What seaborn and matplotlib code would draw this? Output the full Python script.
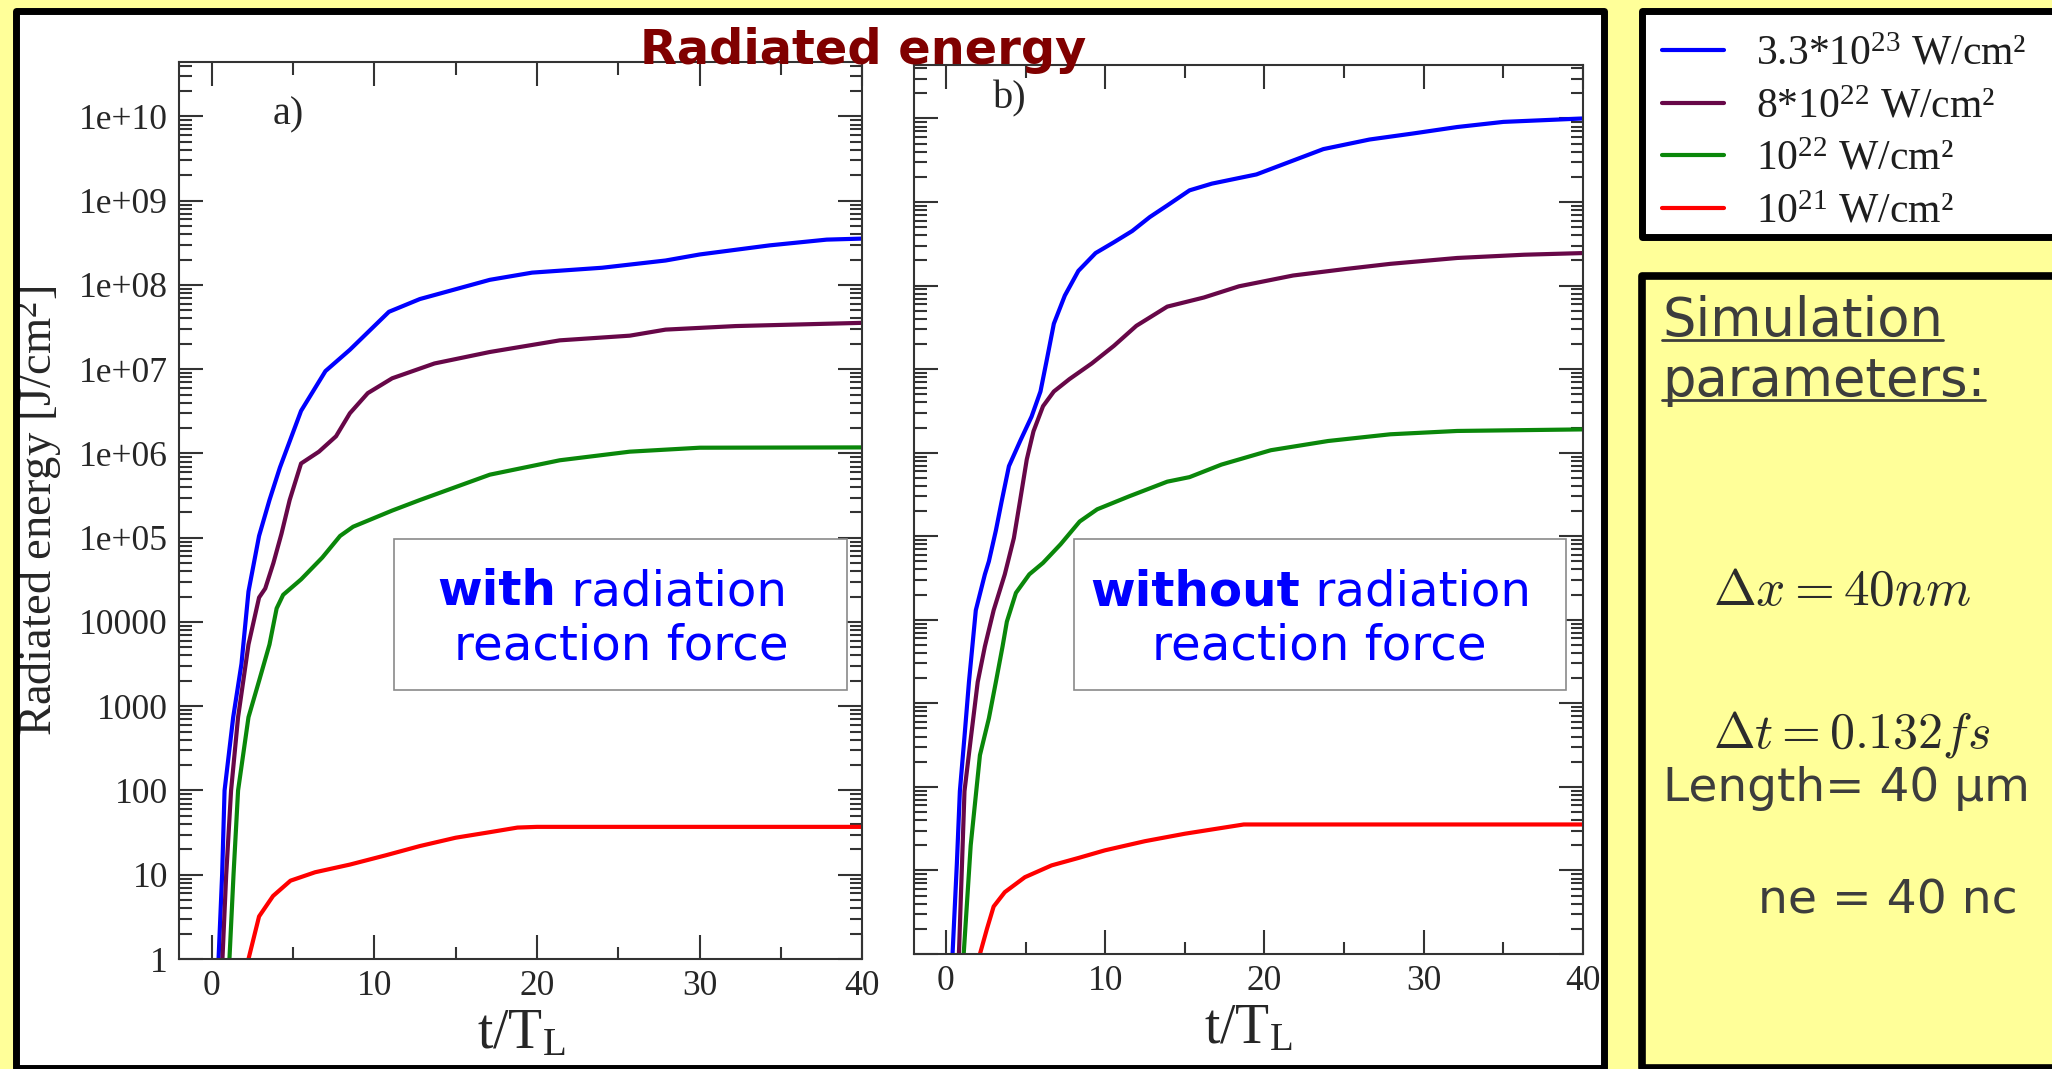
import numpy as np
import pandas as pd
import matplotlib
matplotlib.use("Agg")
import matplotlib.pyplot as plt
from matplotlib.patches import Rectangle
from matplotlib.lines import Line2D
from matplotlib.transforms import Affine2D
from matplotlib.ticker import FixedLocator, FixedFormatter, LogLocator, NullFormatter, MultipleLocator
import seaborn as sns

W, H, DPI = 2052, 1069, 100

# ---------------------------------------------------------------- data
INTENSITY_LABELS = [r"3.3*10$^{23}$ W/cm²", r"8*10$^{22}$ W/cm²",
                    r"10$^{22}$ W/cm²", r"10$^{21}$ W/cm²"]
LINE_COLORS = ["#0000ff", "#670748", "#0a870a", "#ff0000"]

# a) with radiation reaction force
T_A_I0 = [0.43, 0.65, 0.8, 1.33, 1.84, 2.27, 2.92, 3.56, 4.2, 5.5, 7.0, 8.5, 10.9,
          12.8, 17.1, 19.7, 24.0, 27.9, 30.0, 34.3, 37.8, 40.0]
E_A_I0 = [1.0, 10.0, 100.0, 7.4e2, 3.2e3, 2.3e4, 1.05e5, 2.8e5, 6.8e5, 3.2e6, 9.5e6,
          1.7e7, 4.8e7, 6.8e7, 1.15e8, 1.4e8, 1.6e8, 1.95e8, 2.3e8, 2.95e8, 3.45e8, 3.55e8]

T_A_I1 = [0.67, 0.9, 1.2, 1.63, 2.27, 2.92, 3.3, 3.8, 4.3, 4.8, 5.5, 6.6, 7.65, 8.5,
          9.6, 11.1, 13.7, 17.1, 21.4, 25.7, 27.9, 32.2, 40.0]
E_A_I1 = [1.0, 10.0, 100.0, 7.4e2, 5.4e3, 1.95e4, 2.5e4, 5.0e4, 1.12e5, 2.8e5, 7.6e5,
          1.05e6, 1.6e6, 3.0e6, 5.2e6, 7.8e6, 1.17e7, 1.6e7, 2.2e7, 2.5e7, 2.95e7,
          3.25e7, 3.55e7]

T_A_I2 = [1.1, 1.35, 1.63, 2.27, 2.92, 3.56, 4.0, 4.4, 5.5, 6.8, 7.9, 8.7, 11.1, 12.8,
          17.1, 21.4, 25.7, 30.0, 40.0]
E_A_I2 = [1.0, 10.0, 100.0, 7.4e2, 2.0e3, 5.4e3, 1.45e4, 2.1e4, 3.2e4, 5.8e4, 1.05e5,
          1.35e5, 2.1e5, 2.8e5, 5.6e5, 8.3e5, 1.05e6, 1.17e6, 1.18e6]

T_A_I3 = [2.27, 2.92, 3.78, 4.85, 6.36, 8.5, 10.7, 12.8, 15.0, 17.1, 18.8, 20.0, 40.0]
E_A_I3 = [1.0, 3.2, 5.6, 8.5, 10.7, 13.2, 17.0, 21.9, 27.5, 32.0, 36.3, 37.0, 37.0]

# b) without radiation reaction force
T_B_I0 = [0.42, 0.69, 0.88, 1.17, 1.45, 1.88, 2.45, 2.7, 3.14, 3.5, 3.96, 4.68, 5.38,
          5.94, 6.34, 6.78, 7.47, 8.32, 9.4, 10.55, 11.7, 12.8, 13.9, 15.3, 16.7, 19.5,
          20.9, 23.7, 26.6, 29.3, 32.1, 35.0, 40.0]
E_B_I0 = [1.0, 12.0, 89.0, 4.0e2, 1.8e3, 1.3e4, 3.5e4, 5.0e4, 1.17e5, 2.6e5, 6.9e5,
          1.4e6, 2.7e6, 5.4e6, 1.3e7, 3.5e7, 7.6e7, 1.5e8, 2.45e8, 3.3e8, 4.5e8, 6.6e8,
          9.1e8, 1.38e9, 1.66e9, 2.14e9, 2.7e9, 4.3e9, 5.6e9, 6.6e9, 7.9e9, 9.1e9, 1.0e10]

T_B_I1 = [0.82, 1.17, 1.58, 2.0, 2.45, 3.0, 3.7, 4.27, 4.65, 5.08, 5.5, 6.1, 6.78, 7.76,
          9.16, 10.55, 11.96, 13.9, 16.2, 18.4, 21.8, 25.1, 27.9, 32.1, 36.3, 40.0]
E_B_I1 = [1.0, 89.0, 4.0e2, 1.8e3, 4.8e3, 1.3e4, 3.5e4, 9.5e4, 2.6e5, 8.3e5, 1.8e6,
          3.6e6, 5.4e6, 7.6e6, 1.17e7, 1.9e7, 3.3e7, 5.6e7, 7.2e7, 9.8e7, 1.32e8, 1.58e8,
          1.82e8, 2.14e8, 2.34e8, 2.45e8]

T_B_I2 = [1.12, 1.56, 2.14, 2.7, 3.14, 3.56, 3.83, 4.4, 5.24, 6.1, 7.2, 8.4, 9.5, 11.5,
          13.9, 15.3, 17.3, 20.4, 24.0, 27.9, 32.1, 40.0]
E_B_I2 = [1.0, 20.0, 2.4e2, 6.6e2, 1.8e3, 4.8e3, 9.5e3, 2.1e4, 3.5e4, 4.8e4, 8.0e4,
          1.5e5, 2.1e5, 3.0e5, 4.5e5, 5.1e5, 7.2e5, 1.07e6, 1.38e6, 1.66e6, 1.82e6, 1.9e6]

T_B_I3 = [2.14, 2.58, 3.0, 3.7, 4.96, 6.64, 8.32, 9.98, 12.5, 15.0, 18.7, 40.0]
E_B_I3 = [1.0, 2.0, 3.7, 5.5, 8.3, 11.5, 14.1, 17.4, 22.4, 27.5, 35.5, 35.5]

X_TICKS = [0, 10, 20, 30, 40]
X_TICK_LABELS = ["0", "10", "20", "30", "40"]
Y_TICKS = [1e0, 1e1, 1e2, 1e3, 1e4, 1e5, 1e6, 1e7, 1e8, 1e9, 1e10]
Y_TICK_LABELS = ["1", "10", "100", "1000", "10000", "1e+05", "1e+06", "1e+07",
                 "1e+08", "1e+09", "1e+10"]
X_LIMITS = (-2, 40)
Y_LIMITS = (1.0, 10 ** 10.64)

PANEL_A = [(T_A_I0, E_A_I0), (T_A_I1, E_A_I1), (T_A_I2, E_A_I2), (T_A_I3, E_A_I3)]
PANEL_B = [(T_B_I0, E_B_I0), (T_B_I1, E_B_I1), (T_B_I2, E_B_I2), (T_B_I3, E_B_I3)]


def panel_frame(series, name):
    rows = []
    for label, (ts, es) in zip(INTENSITY_LABELS, series):
        rows.append(pd.DataFrame({"t": ts, "E": es, "intensity": label, "panel": name}))
    return pd.concat(rows, ignore_index=True)


df = pd.concat([panel_frame(PANEL_A, "a"), panel_frame(PANEL_B, "b")], ignore_index=True)

# ---------------------------------------------------------------- style
sns.set_style("ticks")
plt.rcParams.update({
    "font.family": ["Liberation Serif", "DejaVu Serif"],
    "mathtext.fontset": "custom",
    "mathtext.rm": "Liberation Serif",
    "mathtext.it": "Liberation Serif:italic",
    "mathtext.bf": "Liberation Serif:bold",
    "axes.edgecolor": "#333333",
    "axes.linewidth": 1.5,
    "axes.facecolor": "white",
})

YELLOW = "#ffff99"
GREY_TEXT = "#3d3d3d"

fig = plt.figure(figsize=(W / DPI, H / DPI), dpi=DPI)
fig.patch.set_facecolor(YELLOW)

# pixel coordinates measured from the top-left corner
PX = Affine2D().scale(1.0 / W, -1.0 / H).translate(0.0, 1.0) + fig.transFigure


def box_rect(x0, y0, x1, y1):
    return [x0 / W, 1 - y1 / H, (x1 - x0) / W, (y1 - y0) / H]


# white plotting panel and the two side panels
fig.add_artist(Rectangle((15.5, 10.5), 1588, 1070, transform=PX, facecolor="white",
                         edgecolor="none", zorder=-2))
fig.add_artist(Rectangle((15.5, 10.5), 1588, 1057, transform=PX, facecolor="none",
                         edgecolor="black", linewidth=5, joinstyle="round", zorder=6))
fig.add_artist(Rectangle((1641.5, 10.5), 430, 226, transform=PX, facecolor="white",
                         edgecolor="black", linewidth=5, joinstyle="round", zorder=1))
fig.add_artist(Rectangle((1642, 275.5), 430, 792, transform=PX, facecolor=YELLOW,
                         edgecolor="black", linewidth=5.5, joinstyle="round", zorder=1))

ax_a = fig.add_axes(box_rect(179, 62.5, 862.5, 959))
ax_b = fig.add_axes(box_rect(914, 65, 1583, 954))

for ax, name in ((ax_a, "a"), (ax_b, "b")):
    sns.lineplot(data=df[df["panel"] == name], x="t", y="E", hue="intensity",
                 hue_order=INTENSITY_LABELS, palette=LINE_COLORS, estimator=None,
                 sort=False, linewidth=3, legend=False, ax=ax)
    ax.set_yscale("log")
    ax.set_xlim(*X_LIMITS)
    ax.set_ylim(*Y_LIMITS)
    ax.xaxis.set_major_locator(FixedLocator(X_TICKS))
    ax.xaxis.set_major_formatter(FixedFormatter(X_TICK_LABELS))
    ax.xaxis.set_minor_locator(MultipleLocator(5))
    ax.yaxis.set_major_locator(FixedLocator(Y_TICKS))
    ax.yaxis.set_major_formatter(FixedFormatter(Y_TICK_LABELS))
    ax.yaxis.set_minor_locator(LogLocator(base=10, subs=np.arange(2, 10), numticks=100))
    ax.yaxis.set_minor_formatter(NullFormatter())
    ax.tick_params(which="both", direction="in", top=True, right=True,
                   color="#333333", width=1.5, labelsize=25.5, pad=8)
    ax.tick_params(which="major", length=17)
    ax.tick_params(which="minor", length=9)
    ax.set_xlabel(r"t/T$_{\rm L}$", fontsize=40, labelpad=4)
    for spine in ax.spines.values():
        spine.set_visible(True)

ax_a.set_ylabel("Radiated energy [J/cm$^2$]", fontsize=33.5, labelpad=10)
ax_b.set_ylabel("")
ax_b.tick_params(axis="y", labelleft=False)

fig.text(288, 124, "a)", transform=PX, fontsize=29, ha="center", va="baseline")
fig.text(1010, 108, "b)", transform=PX, fontsize=29, ha="center", va="baseline")

fig.text(863, 64, "Radiated energy", transform=PX, fontsize=34.5, fontweight="bold",
         color="#800000", family="DejaVu Sans", ha="center", va="baseline", zorder=8)

renderer = fig.canvas.get_renderer()


def mixed_line(parts, cx, y_base, size, color):
    items = [fig.text(0, 0, s, transform=PX, fontsize=size, fontweight=w, color=color,
                      family="DejaVu Sans", ha="left", va="baseline", zorder=7)
             for s, w in parts]
    widths = [t.get_window_extent(renderer).width for t in items]
    x = cx - sum(widths) / 2
    for t, w in zip(items, widths):
        t.set_position((x, y_base))
        x += w


# annotation boxes inside the panels
for (x0, x1), first, c1, c2 in (((394, 847), "with", 612, 621),
                                ((1074, 1566), "without", 1311, 1319)):
    fig.add_artist(Rectangle((x0, 539), x1 - x0, 151, transform=PX, facecolor="white",
                             edgecolor="#8a8a8a", linewidth=1.2, zorder=4))
    mixed_line([(first, "bold"), (" radiation", "normal")], c1, 605, 34.8, "#0000ff")
    mixed_line([("reaction force", "normal")], c2, 660, 34.8, "#0000ff")

# legend of the laser intensities
handles = [Line2D([], [], color=c, linewidth=3) for c in LINE_COLORS]
fig.legend(handles, INTENSITY_LABELS, loc="upper left",
           bbox_to_anchor=(1662 / W, 1 - 35 / H), frameon=False, fontsize=30,
           handlelength=1.48, handletextpad=0.78, labelspacing=0.34, borderpad=0,
           borderaxespad=0, labelcolor="#1e1e1e")

# simulation parameters panel
for txt, yb in (("Simulation", 336), ("parameters:", 396)):
    t = fig.text(1662, yb, txt, transform=PX, fontsize=38, family="DejaVu Sans",
                 color=GREY_TEXT, ha="left", va="baseline", zorder=7)
    bb = t.get_window_extent(renderer)
    fig.add_artist(Line2D([1662, 1662 + bb.width], [yb + 4, yb + 4], transform=PX,
                          color=GREY_TEXT, linewidth=2, zorder=7))

fig.text(1713, 605, r"$\Delta x = 40nm$", transform=PX, fontsize=37, math_fontfamily="cm",
         color="#2b2b2b", ha="left", va="baseline", zorder=7)
fig.text(1713, 747, r"$\Delta t = 0.132fs$", transform=PX, fontsize=36, math_fontfamily="cm",
         color="#2b2b2b", ha="left", va="baseline", zorder=7)
fig.text(1663, 801, "Length= 40 µm", transform=PX, fontsize=33.8, family="DejaVu Sans",
         color=GREY_TEXT, ha="left", va="baseline", zorder=7)
fig.text(1758, 914, "ne = 40 nc", transform=PX, fontsize=34, family="DejaVu Sans",
         color=GREY_TEXT, ha="left", va="baseline", zorder=7)

fig.savefig("out.png", dpi=DPI, facecolor=fig.get_facecolor())
